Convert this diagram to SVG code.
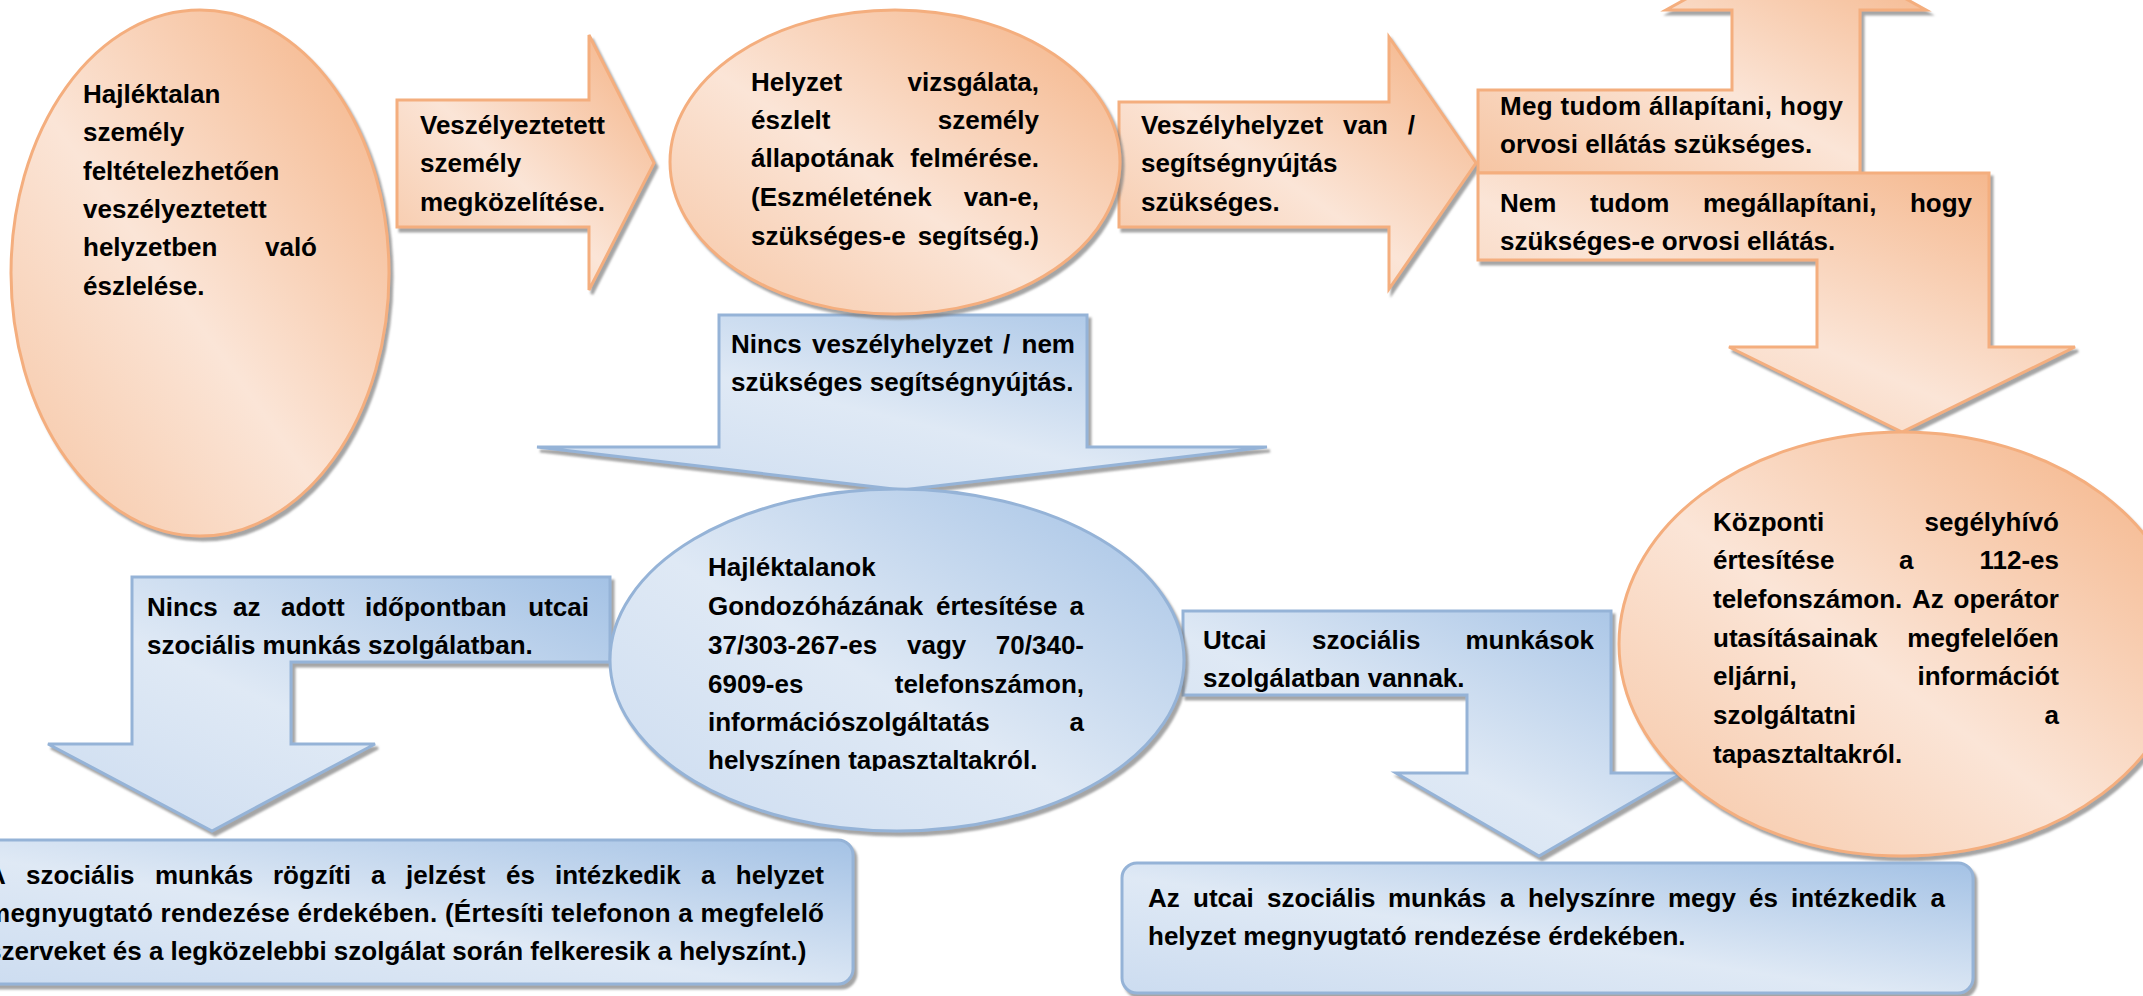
<svg xmlns="http://www.w3.org/2000/svg" width="2143" height="996" viewBox="0 0 2143 996">
<defs>
<style>
.t{font-family:"Liberation Sans",Arial,sans-serif;font-weight:bold;font-size:26px;fill:#000}
.e{text-anchor:end}
.o{fill:url(#og);stroke:#F4AE7E;stroke-width:3;filter:url(#sh)}
.b{fill:url(#bg);stroke:#95B3D7;stroke-width:3;filter:url(#sh)}
</style>
<linearGradient id="og" x1="0" y1="1" x2="1" y2="0">
<stop offset="0" stop-color="#F6C5A3"/>
<stop offset="0.45" stop-color="#FBE5D7"/>
<stop offset="1" stop-color="#F4B183"/>
</linearGradient>
<linearGradient id="bg" x1="0" y1="1" x2="1" y2="0">
<stop offset="0" stop-color="#CCDCF0"/>
<stop offset="0.45" stop-color="#DFE9F5"/>
<stop offset="1" stop-color="#A4C2E5"/>
</linearGradient>
<filter id="sh" x="-10%" y="-10%" width="120%" height="120%">
<feDropShadow dx="3" dy="4" stdDeviation="1" flood-color="#7F7F7F" flood-opacity="0.7"/>
</filter>
<clipPath id="clipF"><rect x="600" y="480" width="600" height="291"/></clipPath>
</defs>

<g id="connectors">
<polygon id="arrowB" class="o" points="397,100 589,100 589,35 654,163 589,290 589,227 397,227"/>
<polygon id="arrowD" class="o" points="1119,102 1389,102 1389,37 1476,163 1389,289 1389,227 1119,227"/>
<polygon id="arrowE" class="b" points="719,315 1087,315 1087,447 1267,447 902,490 537,447 719,447"/>
<polygon id="arrowG" class="b" points="610,577 610,662 291,662 291,744 375,744 212,831 48,744 132,744 132,577"/>
<polygon id="arrowJ" class="b" points="1183,611 1611,611 1611,773 1682,773 1539,856 1396,773 1467,773 1467,695 1183,695"/>
<polygon id="arrowL" class="o" points="1478,90 1732,90 1732,10 1666,10 1796,-62 1926,10 1860,10 1860,173 1478,173"/>
<polygon id="arrowM" class="o" points="1478,173 1989,173 1989,347 2075,347 1902,432 1729,347 1817,347 1817,260 1478,260"/>
</g>

<g id="nodeA">
<ellipse class="o" cx="200" cy="273" rx="189" ry="263"/>
<text class="t" x="83" y="103">Hajléktalan</text>
<text class="t" x="83" y="141">személy</text>
<text class="t" x="83" y="180">feltételezhetően</text>
<text class="t" x="83" y="218">veszélyeztetett</text>
<text class="t" x="83" y="256">helyzetben</text>
<text class="t e" x="317" y="256">való</text>
<text class="t" x="83" y="295">észlelése.</text>
</g>

<g id="nodeB">
<text class="t" x="420" y="134">Veszélyeztetett</text>
<text class="t" x="420" y="172">személy</text>
<text class="t" x="420" y="211">megközelítése.</text>
</g>

<g id="nodeC">
<ellipse class="o" cx="895" cy="162" rx="225" ry="152"/>
<text class="t" x="751" y="91">Helyzet</text>
<text class="t e" x="1039" y="91">vizsgálata,</text>
<text class="t" x="751" y="129">észlelt</text>
<text class="t e" x="1039" y="129">személy</text>
<text class="t" x="751" y="167">állapotának</text>
<text class="t e" x="1039" y="167">felmérése.</text>
<text class="t" x="751" y="206">(Eszméletének</text>
<text class="t e" x="1039" y="206">van-e,</text>
<text class="t" x="751" y="245">szükséges-e</text>
<text class="t e" x="1039" y="245">segítség.)</text>
</g>

<g id="nodeD">
<text class="t" y="134"><tspan x="1141">Veszélyhelyzet</tspan><tspan x="1343">van</tspan></text>
<text class="t e" x="1415" y="134">/</text>
<text class="t" x="1141" y="172">segítségnyújtás</text>
<text class="t" x="1141" y="211">szükséges.</text>
</g>

<g id="nodeL">
<text class="t" x="1500" y="115" textLength="343" lengthAdjust="spacing">Meg tudom állapítani, hogy</text>
<text class="t" x="1500" y="153">orvosi ellátás szükséges.</text>
</g>

<g id="nodeM">
<text class="t" y="212"><tspan x="1500">Nem</tspan><tspan x="1590">tudom</tspan><tspan x="1703">megállapítani,</tspan></text>
<text class="t e" x="1972" y="212">hogy</text>
<text class="t" x="1500" y="250">szükséges-e orvosi ellátás.</text>
</g>

<g id="nodeE">
<text class="t" y="353"><tspan x="731">Nincs</tspan><tspan x="812">veszélyhelyzet</tspan><tspan x="1003">/</tspan></text>
<text class="t e" x="1075" y="353">nem</text>
<text class="t" x="731" y="391">szükséges segítségnyújtás.</text>
</g>

<g id="nodeF">
<ellipse class="b" cx="897" cy="660" rx="287" ry="171"/>
<g clip-path="url(#clipF)">
<text class="t" x="708" y="576">Hajléktalanok</text>
<text class="t" y="615"><tspan x="708">Gondozóházának</tspan><tspan x="936">értesítése</tspan></text>
<text class="t e" x="1084" y="615">a</text>
<text class="t" y="654"><tspan x="708">37/303-267-es</tspan><tspan x="907">vagy</tspan></text>
<text class="t e" x="1084" y="654">70/340-</text>
<text class="t" x="708" y="693">6909-es</text>
<text class="t e" x="1084" y="693">telefonszámon,</text>
<text class="t" x="708" y="731">információszolgáltatás</text>
<text class="t e" x="1084" y="731">a</text>
<text class="t" x="708" y="769">helyszínen tapasztaltakról.</text>
</g>
</g>

<g id="nodeG">
<text class="t" y="616"><tspan x="147">Nincs</tspan><tspan x="233">az</tspan><tspan x="281">adott</tspan><tspan x="365">időpontban</tspan></text>
<text class="t e" x="589" y="616">utcai</text>
<text class="t" x="147" y="654">szociális munkás szolgálatban.</text>
</g>

<g id="nodeI">
<ellipse class="o" cx="1902" cy="644" rx="283" ry="212"/>
<text class="t" x="1713" y="531">Központi</text>
<text class="t e" x="2059" y="531">segélyhívó</text>
<text class="t" y="569"><tspan x="1713">értesítése</tspan><tspan x="1899">a</tspan></text>
<text class="t e" x="2059" y="569">112-es</text>
<text class="t" y="608"><tspan x="1713">telefonszámon.</tspan><tspan x="1912">Az</tspan></text>
<text class="t e" x="2059" y="608">operátor</text>
<text class="t" x="1713" y="647">utasításainak</text>
<text class="t e" x="2059" y="647">megfelelően</text>
<text class="t" x="1713" y="685">eljárni,</text>
<text class="t e" x="2059" y="685">információt</text>
<text class="t" x="1713" y="724">szolgáltatni</text>
<text class="t e" x="2059" y="724">a</text>
<text class="t" x="1713" y="763">tapasztaltakról.</text>
</g>

<g id="nodeJ">
<text class="t" y="649"><tspan x="1203">Utcai</tspan><tspan x="1312">szociális</tspan></text>
<text class="t e" x="1594" y="649">munkások</text>
<text class="t" x="1203" y="687">szolgálatban vannak.</text>
</g>

<g id="nodeH">
<rect class="b" x="-40" y="840" width="893" height="144" rx="15"/>
<text class="t" y="884"><tspan x="-13">A</tspan><tspan x="26">szociális</tspan><tspan x="155">munkás</tspan><tspan x="273">rögzíti</tspan><tspan x="371">a</tspan><tspan x="406">jelzést</tspan><tspan x="506">és</tspan><tspan x="555">intézkedik</tspan><tspan x="701">a</tspan></text>
<text class="t e" x="824" y="884">helyzet</text>
<text class="t" x="-13" y="922" textLength="837" lengthAdjust="spacing">megnyugtató rendezése érdekében. (Értesíti telefonon a megfelelő</text>
<text class="t" x="-13" y="960">szerveket és a legközelebbi szolgálat során felkeresik a helyszínt.)</text>
</g>

<g id="nodeK">
<rect class="b" x="1122" y="863" width="851" height="130" rx="15"/>
<text class="t" y="907"><tspan x="1148">Az</tspan><tspan x="1193">utcai</tspan><tspan x="1267">szociális</tspan><tspan x="1388">munkás</tspan><tspan x="1500">a</tspan><tspan x="1528">helyszínre</tspan><tspan x="1668">megy</tspan><tspan x="1749">és</tspan><tspan x="1791">intézkedik</tspan></text>
<text class="t e" x="1945" y="907">a</text>
<text class="t" x="1148" y="945">helyzet megnyugtató rendezése érdekében.</text>
</g>
</svg>
